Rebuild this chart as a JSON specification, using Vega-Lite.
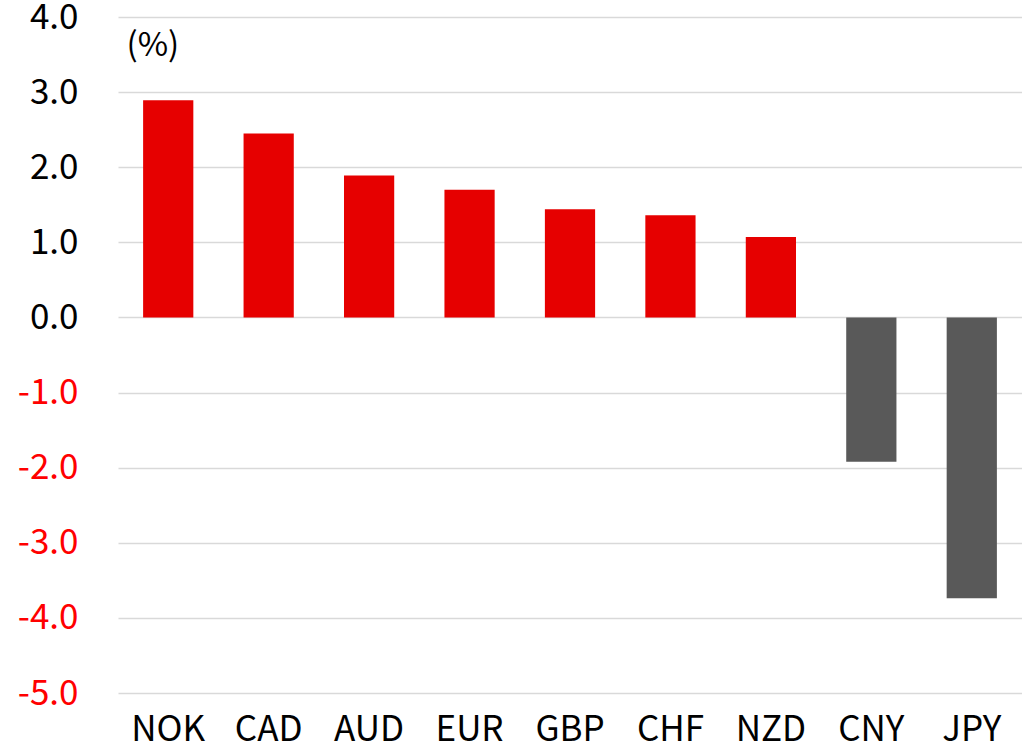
{
  "$schema": "https://vega.github.io/schema/vega-lite/v6.json",
  "width": 904,
  "height": 676,
  "autosize": {"type": "none"},
  "padding": {"left": 118, "top": 17, "right": 0, "bottom": 57},
  "background": "white",
  "config": {"view": {"stroke": null}, "font": "Noto Sans CJK JP"},
  "data": {"values": [
    {"currency": "NOK", "value": 2.89},
    {"currency": "CAD", "value": 2.45},
    {"currency": "AUD", "value": 1.89},
    {"currency": "EUR", "value": 1.70},
    {"currency": "GBP", "value": 1.44},
    {"currency": "CHF", "value": 1.36},
    {"currency": "NZD", "value": 1.07},
    {"currency": "CNY", "value": -1.92},
    {"currency": "JPY", "value": -3.74}
  ]},
  "mark": {"type": "bar"},
  "encoding": {
    "x": {
      "field": "currency", "type": "nominal", "sort": null,
      "scale": {"paddingInner": 0.5, "paddingOuter": 0.25},
      "axis": {"title": null, "labelAngle": 0, "labelFontSize": 35, "labelColor": "#000000", "ticks": false, "domain": false, "labelPadding": 19, "labelFont": "Noto Sans CJK JP"}
    },
    "y": {
      "field": "value", "type": "quantitative",
      "scale": {"domain": [-5, 4], "nice": false, "zero": false},
      "axis": {
        "values": [-5, -4, -3, -2, -1, 0, 1, 2, 3, 4],
        "labelExpr": "(datum.value < 0 ? '-' : '') + format(abs(datum.value), '.1f')",
        "title": "(%)", "titleAngle": 0, "titleX": 8, "titleY": 28, "titleAlign": "left", "titleBaseline": "middle", "titleFontSize": 33, "titleFontWeight": "normal", "titleColor": "#000000", "titleFont": "Noto Sans CJK JP",
        "labelFontSize": 35, "labelFont": "Noto Sans CJK JP",
        "labelColor": {"condition": {"test": "datum.value < 0", "value": "#ff0000"}, "value": "#000000"},
        "ticks": false, "domain": false, "labelPadding": 40,
        "grid": true, "gridColor": "#d9d9d9", "gridWidth": 1.5
      }
    },
    "color": {
      "condition": {"test": "datum.value < 0", "value": "#595959"},
      "value": "#e60000"
    }
  }
}
